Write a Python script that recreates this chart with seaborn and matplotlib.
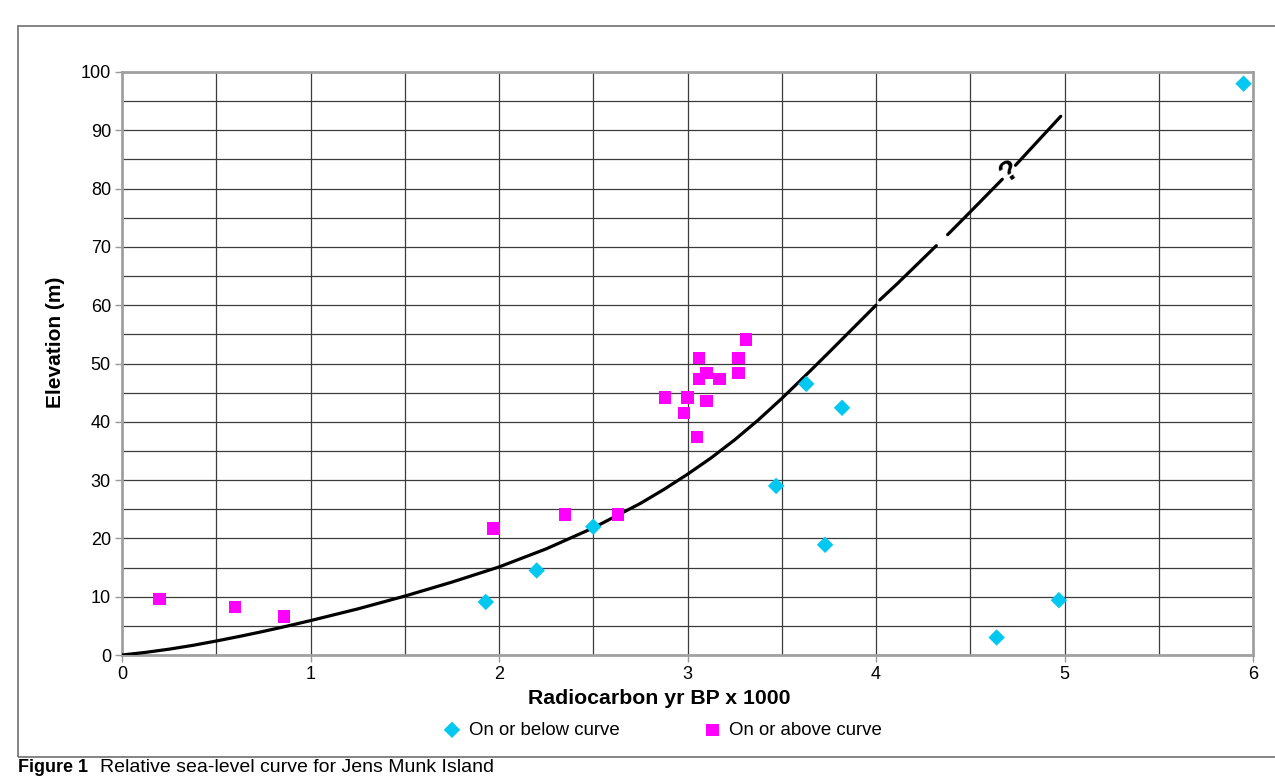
import pandas as pd
import seaborn as sns
import matplotlib.pyplot as plt
from matplotlib.patches import Rectangle

# data (x in radiocarbon yr BP / 1000, y in m)
below_x = [1.93, 2.20, 2.50, 3.47, 3.63, 3.73, 3.82, 4.64, 4.97, 5.95]
below_y = [9.1, 14.5, 22.0, 29.0, 46.5, 18.9, 42.4, 3.0, 9.4, 98.0]

above_x = [0.20, 0.60, 0.86, 1.97, 2.35, 2.63, 2.88, 3.00, 2.98, 3.05,
           3.10, 3.06, 3.06, 3.10, 3.17, 3.27, 3.27, 3.31]
above_y = [9.6, 8.2, 6.6, 21.7, 24.1, 24.1, 44.2, 44.2, 41.5, 37.4,
           43.6, 50.9, 47.3, 48.4, 47.3, 50.9, 48.4, 54.1]

# sea-level curve, broken into pieces where the drawn line has gaps
curve_x = [0, 0.125, 0.25, 0.375, 0.5, 0.625, 0.75, 0.875, 1.0, 1.25, 1.5,
           1.75, 2.0, 2.25, 2.5, 2.75, 2.875, 3.0, 3.125, 3.25, 3.375, 3.5,
           3.625, 3.75, 3.875, 4.0,
           4.02, 4.11, 4.32,
           4.38, 4.5, 4.67,
           4.74, 4.98]
curve_y = [0, 0.45, 1.0, 1.65, 2.4, 3.2, 4.05, 4.95, 5.9, 7.9, 10.1,
           12.5, 15.1, 18.2, 21.8, 26.0, 28.4, 31.0, 33.8, 36.9, 40.3, 44.0,
           47.9, 51.9, 55.95, 60.0,
           60.9, 63.6, 70.2,
           72.1, 76.0, 81.6,
           84.0, 92.4]
curve_piece = [0] * 26 + [1] * 3 + [2] * 3 + [3] * 2

x_ticks = [0, 1, 2, 3, 4, 5, 6]
y_ticks = [0, 10, 20, 30, 40, 50, 60, 70, 80, 90, 100]

below = pd.DataFrame({'age': below_x, 'elev': below_y})
above = pd.DataFrame({'age': above_x, 'elev': above_y})
curve = pd.DataFrame({'age': curve_x, 'elev': curve_y, 'piece': curve_piece})

sns.set_style('white')
plt.rcParams['font.family'] = ['Liberation Sans', 'DejaVu Sans']
plt.rcParams['text.color'] = 'black'

fig = plt.figure(figsize=(12.75, 7.77), dpi=100)
ax = fig.add_axes([122 / 1275, 1 - 655 / 777, 1131 / 1275, 583 / 777])

# grid every 0.5 / 5 units
for gx in [i * 0.5 for i in range(1, 12)]:
    ax.axvline(gx, color='#3c3c3c', lw=0.9, zorder=0)
for gy in range(5, 100, 5):
    ax.axhline(gy, color='#3c3c3c', lw=0.9, zorder=0)

sns.lineplot(data=curve, x='age', y='elev', units='piece', estimator=None,
             sort=False, color='black', lw=2.3, ax=ax, zorder=3)
ax.text(4.705, 82.9, '?', rotation=35, fontsize=21, fontweight='bold',
        ha='center', va='center', color='black', zorder=4)

sns.scatterplot(data=below, x='age', y='elev', marker='D', s=70,
                color='#00C8F0', edgecolor='none', label='On or below curve',
                ax=ax, zorder=5, clip_on=False)
sns.scatterplot(data=above, x='age', y='elev', marker='s', s=80,
                color='#FF00FF', edgecolor='none', label='On or above curve',
                ax=ax, zorder=5, clip_on=False)

ax.set_xlim(0, 6)
ax.set_ylim(0, 100)
ax.set_xticks(x_ticks)
ax.set_yticks(y_ticks)
ax.tick_params(axis='both', labelsize=13, length=5, width=1, color='#999999',
               labelcolor='black', direction='out', pad=3,
               left=True, bottom=True)
for sp in ax.spines.values():
    sp.set_color('#a0a0a0')
    sp.set_linewidth(2)

ax.set_xlabel('Radiocarbon yr BP x 1000', fontsize=15.3, fontweight='bold',
              color='black')
ax.set_ylabel('Elevation (m)', fontsize=15, fontweight='bold', color='black')
ax.xaxis.set_label_coords(0.475, -0.058)
ax.yaxis.set_label_coords(-0.05, 0.537)

ax.legend(loc='center', bbox_to_anchor=(0.477, -0.129), ncol=2,
          frameon=False, fontsize=13.4, columnspacing=4.4,
          handletextpad=0.3, handlelength=1.2)

# outer frame and caption
fig.add_artist(Rectangle((18 / 1275, 1 - 757 / 777), 1.1, 731 / 777,
                         transform=fig.transFigure, fill=False,
                         edgecolor='#707070', lw=1.2, clip_on=False))
fig.text(18 / 1275, 1 / 777, 'Figure 1', fontsize=13,
         fontweight='bold', va='bottom', ha='left')
fig.text(100 / 1275, 1 / 777,
         'Relative sea-level curve for Jens Munk Island',
         fontsize=14, va='bottom', ha='left')

fig.savefig('out.png', dpi=100)
